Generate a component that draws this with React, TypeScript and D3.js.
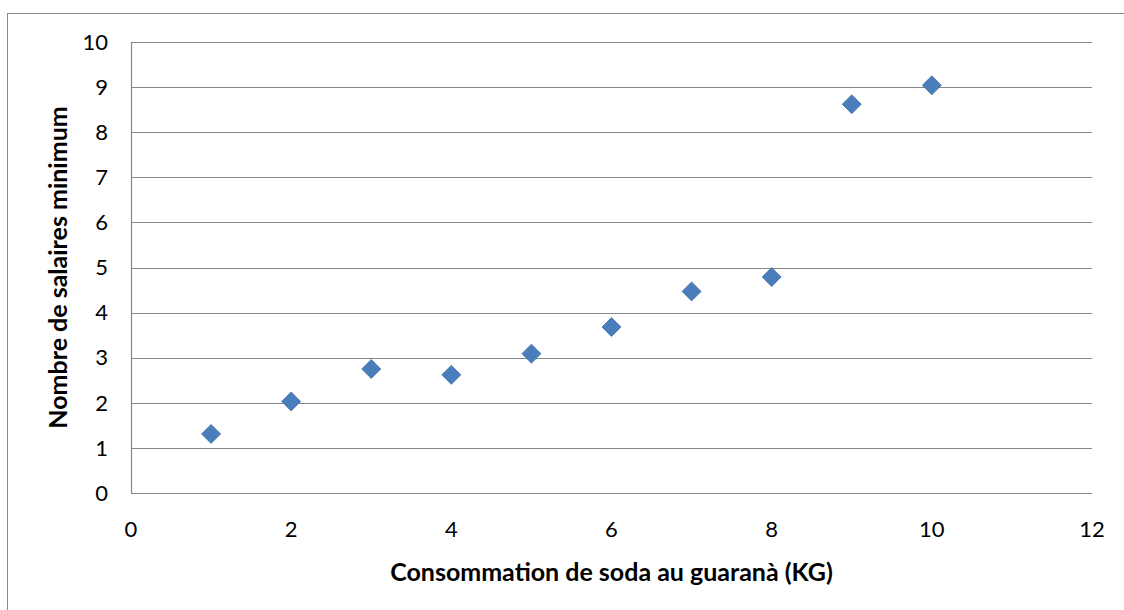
import * as d3 from "d3";

const xValues = [1, 2, 3, 4, 5, 6, 7, 8, 9, 10];
const yValues = [1.31, 2.03, 2.75, 2.62, 3.09, 3.68, 4.47, 4.79, 8.62, 9.04];
const xTicks = [0, 2, 4, 6, 8, 10, 12];
const yTicks = [0, 1, 2, 3, 4, 5, 6, 7, 8, 9, 10];
const xTitle = "Consommation de soda au guaranà (KG)";
const yTitle = "Nombre de salaires minimum";

const width = 1124;
const height = 610;
const marginLeft = 131;
const marginRight = 32;
const marginTop = 42;
const marginBottom = 117;
const font = "Lato, 'Liberation Sans', sans-serif";

export default function App() {
    const x = d3.scaleLinear([0, 12], [marginLeft, width - marginRight]);
    const y = d3.scaleLinear([0, 10], [height - marginBottom, marginTop]);
    const diamond = d3.symbol(d3.symbolDiamond2, 230)();
    return (
        <div style={{ position: "fixed", left: 0, top: 0 }}>
            <svg width={width} height={height} style={{ display: "block", background: "white" }}>
                <rect x={7.5} y={13.5} width={width + 10} height={height + 10} fill="white" stroke="#868686" strokeWidth={1} />
                <g stroke="#868686" strokeWidth={1.2}>
                    {yTicks.map((t) => (
                        <line key={t} x1={x(0)} x2={x(12)} y1={Math.round(y(t)) + 0.5} y2={Math.round(y(t)) + 0.5} />
                    ))}
                    <line x1={Math.round(x(0)) + 0.5} x2={Math.round(x(0)) + 0.5} y1={y(10)} y2={y(0)} />
                </g>
                <g fontFamily={font} fontSize={22} fill="#000">
                    {yTicks.map((t) => (
                        <text key={t} x={x(0) - 23} y={y(t)} dy="0.35em" textAnchor="end">{t}</text>
                    ))}
                    {xTicks.map((t) => (
                        <text key={t} x={x(t)} y={y(0) + 36} dy="0.35em" textAnchor="middle">{t}</text>
                    ))}
                </g>
                <text x={(x(0) + x(12)) / 2} y={572} dy="0.35em" textAnchor="middle" fontFamily={font} fontSize={25} fontWeight="bold">{xTitle}</text>
                <text transform={`translate(58,${(y(0) + y(10)) / 2}) rotate(-90)`} dy="0.35em" textAnchor="middle" fontFamily={font} fontSize={25} fontWeight="bold">{yTitle}</text>
                <g fill="#4A7EBB" stroke="#3F6FA8" strokeWidth={0.8}>
                    {xValues.map((d, i) => (
                        <path key={i} d={diamond as string} transform={`translate(${x(d)},${y(yValues[i])})`} />
                    ))}
                </g>
            </svg>
        </div>
    );
}
